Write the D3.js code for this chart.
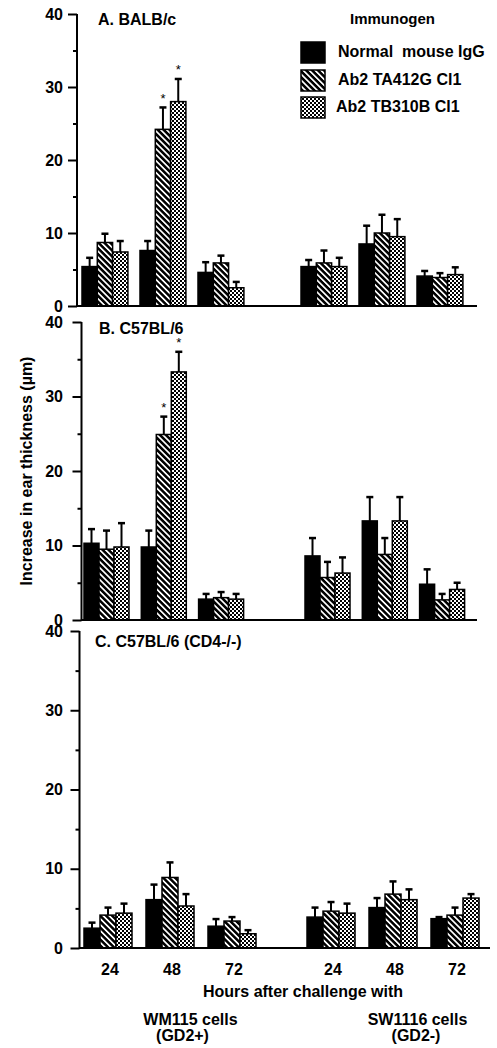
<!DOCTYPE html>
<html>
<head>
<meta charset="utf-8">
<script src="https://cdn.jsdelivr.net/npm/d3@7"></script>
<style>
  html, body { margin: 0; padding: 0; background: #fff; }
  svg { display: block; }
  text { font-family: "Liberation Sans", Arial, Helvetica, sans-serif; font-weight: bold; fill: #000; }
</style>
</head>
<body>
<svg id="chart" width="497" height="1048"></svg>
<script>
// ---------------- DATA ----------------
const categories = ["24", "48", "72", "24", "48", "72"];
const cellLines = ["WM115 cells", "SW1116 cells"];
const cellSubtitles = ["(GD2+)", "(GD2-)"];
const seriesNames = ["Normal  mouse IgG", "Ab2 TA412G Cl1", "Ab2 TB310B Cl1"];
const legendTitle = "Immunogen";
const panelTitles = ["A. BALB/c", "B. C57BL/6", "C. C57BL/6 (CD4-/-)"];
const yTicks = [0, 10, 20, 30, 40];
const yMinorTicks = [5, 15, 25, 35];
const yLabel = "Increase in ear thickness (\u00b5m)";
const xLabel = "Hours after challenge with";

// Panel A: BALB/c
const balbNormal = [5.4, 7.6, 4.6, 5.4, 8.5, 4.1];
const balbTA412G = [8.7, 24.2, 5.9, 5.9, 10.0, 3.9];
const balbTB310B = [7.4, 28.0, 2.5, 5.4, 9.5, 4.3];
const balbNormalErr = [1.2, 1.3, 1.4, 0.9, 2.5, 0.7];
const balbTA412GErr = [1.2, 3.0, 1.0, 1.7, 2.5, 0.6];
const balbTB310BErr = [1.5, 3.1, 0.8, 1.2, 2.4, 1.0];
const balbSignificant = [[1, 1], [2, 1]]; // [series, category]

// Panel B: C57BL/6
const b6Normal = [10.3, 9.8, 2.8, 8.6, 13.3, 4.8];
const b6TA412G = [9.5, 24.9, 3.0, 5.7, 8.8, 2.7];
const b6TB310B = [9.8, 33.3, 2.8, 6.3, 13.3, 4.1];
const b6NormalErr = [1.9, 2.2, 0.7, 2.4, 3.2, 2.0];
const b6TA412GErr = [2.5, 2.4, 0.75, 2.1, 2.2, 0.8];
const b6TB310BErr = [3.2, 2.7, 0.7, 2.1, 3.2, 0.9];
const b6Significant = [[1, 1], [2, 1]];

// Panel C: C57BL/6 (CD4-/-)
const cd4Normal = [2.5, 6.1, 2.75, 3.9, 5.1, 3.7];
const cd4TA412G = [4.15, 8.9, 3.4, 4.65, 6.8, 4.15];
const cd4TB310B = [4.4, 5.3, 1.8, 4.4, 6.1, 6.3];
const cd4NormalErr = [0.7, 1.9, 0.9, 1.2, 1.2, 0.2];
const cd4TA412GErr = [0.95, 1.9, 0.5, 1.15, 1.6, 0.95];
const cd4TB310BErr = [1.2, 1.5, 0.45, 1.2, 1.3, 0.5];
const cd4Significant = [];

// ---------------- LAYOUT ----------------
const panels = [
  { title: panelTitles[0], values: [balbNormal, balbTA412G, balbTB310B], errs: [balbNormalErr, balbTA412GErr, balbTB310BErr], sig: balbSignificant,
    y0: 306, y40: 14, axisX: 77, baseEnd: 477, start: 82, step: 58, gap: 0.776, barW: 15.3, titleX: 98, titleY: 25 },
  { title: panelTitles[1], values: [b6Normal, b6TA412G, b6TB310B], errs: [b6NormalErr, b6TA412GErr, b6TB310BErr], sig: b6Significant,
    y0: 620, y40: 322, axisX: 81.5, baseEnd: 477, start: 84, step: 57.3, gap: 0.857, barW: 15, titleX: 99, titleY: 334 },
  { title: panelTitles[2], values: [cd4Normal, cd4TA412G, cd4TB310B], errs: [cd4NormalErr, cd4TA412GErr, cd4TB310BErr], sig: cd4Significant,
    y0: 948, y40: 631, axisX: 79.5, baseEnd: 490, start: 84, step: 62, gap: 0.597, barW: 16, titleX: 95, titleY: 647 }
];
const labelRight = 63;
const majorTick = 9;
const minorTick = 4;
const fontSize = 16;

const svg = d3.select("#chart");
const defs = svg.append("defs");

// hatched pattern (white "\" stripes on black)
const hatch = defs.append("pattern").attr("id", "hatch")
  .attr("patternUnits", "userSpaceOnUse").attr("width", 4.2).attr("height", 4.2)
  .attr("patternTransform", "rotate(-45)");
hatch.append("rect").attr("width", 4.2).attr("height", 4.2).attr("fill", "#000");
hatch.append("rect").attr("x", 0).attr("width", 1.7).attr("height", 4.2).attr("fill", "#fff");

// checkered pattern
const dots = defs.append("pattern").attr("id", "dots")
  .attr("patternUnits", "userSpaceOnUse").attr("width", 4).attr("height", 4);
dots.append("rect").attr("width", 4).attr("height", 4).attr("fill", "#fff");
dots.append("rect").attr("x", 0).attr("y", 0).attr("width", 2).attr("height", 2).attr("fill", "#000");
dots.append("rect").attr("x", 2).attr("y", 2).attr("width", 2).attr("height", 2).attr("fill", "#000");

const fills = ["#000", "url(#hatch)", "url(#dots)"];

panels.forEach((p, pi) => {
  const g = svg.append("g");
  const y = d3.scaleLinear().domain([0, 40]).range([p.y0, p.y40]);
  const slot = i => i + (i >= 3 ? p.gap : 0);
  const x = d3.scaleLinear().domain([0, 1]).range([p.start, p.start + p.step]);
  const inner = d3.scaleBand().domain(d3.range(seriesNames.length)).range([0, p.barW * seriesNames.length]).padding(0);

  // bars
  seriesNames.forEach((s, si) => {
    const vals = p.values[si], errs = p.errs[si];
    const bg = g.append("g");
    categories.forEach((c, ci) => {
      const bx = x(slot(ci)) + inner(si);
      const cx = bx + inner.bandwidth() / 2;
      const topV = vals[ci] + errs[ci];
      // error bar (upper only)
      bg.append("line").attr("x1", cx).attr("x2", cx).attr("y1", y(vals[ci])).attr("y2", y(topV))
        .attr("stroke", "#000").attr("stroke-width", 2);
      bg.append("line").attr("x1", cx - 3.5).attr("x2", cx + 3.5).attr("y1", y(topV)).attr("y2", y(topV))
        .attr("stroke", "#000").attr("stroke-width", 2.5);
      bg.append("rect").attr("x", bx).attr("y", y(vals[ci]))
        .attr("width", inner.bandwidth()).attr("height", y(0) - y(vals[ci]))
        .attr("fill", fills[si]).attr("stroke", "#000").attr("stroke-width", 1.5);
    });
  });

  // significance stars
  p.sig.forEach(([si, ci]) => {
    const cx = x(slot(ci)) + inner(si) + inner.bandwidth() / 2;
    const topV = p.values[si][ci] + p.errs[si][ci];
    g.append("text").attr("x", cx).attr("y", y(topV) - 4.5)
      .attr("text-anchor", "middle").style("font-size", "13px").style("font-weight", "normal").text("*");
  });

  // baseline
  g.append("line").attr("x1", p.axisX).attr("x2", p.baseEnd).attr("y1", y(0)).attr("y2", y(0))
    .attr("stroke", "#000").attr("stroke-width", 2);

  // y axis
  const axMajor = d3.axisLeft(y).tickValues(yTicks).tickSize(majorTick).tickSizeOuter(0)
    .tickPadding(p.axisX - labelRight - majorTick).tickFormat(d3.format("d"));
  const ga = g.append("g").attr("transform", `translate(${p.axisX},0)`).call(axMajor);
  ga.select(".domain").remove();
  ga.selectAll(".tick line").attr("stroke", "#000").attr("stroke-width", 2);
  ga.selectAll(".tick text").style("font-size", fontSize + "px").style("font-family", null).attr("font-family", null);
  const axMinor = d3.axisLeft(y).tickValues(yMinorTicks).tickSize(minorTick).tickSizeOuter(0).tickFormat("");
  const gm = g.append("g").attr("transform", `translate(${p.axisX},0)`).call(axMinor);
  gm.select(".domain").remove();
  gm.selectAll(".tick line").attr("stroke", "#000").attr("stroke-width", 2);
  g.append("line").attr("x1", p.axisX).attr("x2", p.axisX).attr("y1", y(0) + 1).attr("y2", y(40))
    .attr("stroke", "#000").attr("stroke-width", 2);

  // panel title
  g.append("text").attr("x", p.titleX).attr("y", p.titleY).style("font-size", fontSize + "px").text(p.title);

  // x tick labels on the bottom panel
  if (pi === panels.length - 1) {
    categories.forEach((c, ci) => {
      const cx = x(slot(ci)) + (p.barW * seriesNames.length) / 2 + 2;
      g.append("text").attr("x", cx).attr("y", 975).attr("text-anchor", "middle")
        .style("font-size", fontSize + "px").text(c);
    });
  }
});

// y axis title
svg.append("text").attr("transform", "translate(32,471) rotate(-90)").attr("text-anchor", "middle")
  .style("font-size", fontSize + "px").text(yLabel);

// x axis titles
svg.append("text").attr("x", 303).attr("y", 997).attr("text-anchor", "middle").style("font-size", fontSize + "px").text(xLabel);
const cellX = [190.5, 417.5];
const subX = [182.5, 416];
cellLines.forEach((c, i) => {
  svg.append("text").attr("x", cellX[i]).attr("y", 1025).attr("text-anchor", "middle").style("font-size", fontSize + "px").text(c);
  svg.append("text").attr("x", subX[i]).attr("y", 1041).attr("text-anchor", "middle").style("font-size", fontSize + "px").text(cellSubtitles[i]);
});

// legend
svg.append("text").attr("x", 392.5).attr("y", 24).attr("text-anchor", "middle").style("font-size", "15px").text(legendTitle);
const legY = [42, 70, 97];
const legTextX = [338, 338, 336];
seriesNames.forEach((s, si) => {
  svg.append("rect").attr("x", 301).attr("y", legY[si]).attr("width", 24).attr("height", 21)
    .attr("fill", fills[si]).attr("stroke", "#000").attr("stroke-width", 1.5);
  svg.append("text").attr("x", legTextX[si]).attr("y", legY[si] + 15).style("font-size", fontSize + "px").text(s)
    .attr("xml:space", "preserve").style("white-space", "pre");
});
</script>
</body>
</html>
